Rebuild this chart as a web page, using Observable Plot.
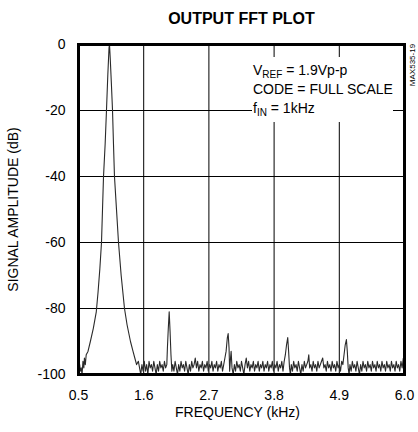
<!DOCTYPE html>
<html>
<head>
<meta charset="utf-8">
<script src="https://cdn.jsdelivr.net/npm/d3@7"></script>
<script src="https://cdn.jsdelivr.net/npm/@observablehq/plot@0.6"></script>
<style>
  body { margin: 0; background: white; }
  #wrap { position: relative; width: 418px; height: 432px; font-family: "Liberation Sans", Arial, Helvetica, sans-serif; }
  .note { position: absolute; left: 252px; top: 57px; width: 141px; height: 65px; background: white;
          font-size: 14px; line-height: 19px; padding: 4px 0 0 1px; box-sizing: border-box; color: black; white-space: nowrap; }
  .note sub { font-size: 10px; vertical-align: -3px; line-height: 0; }
  .code { position: absolute; left: 412px; top: 65px; transform: translate(-50%, -50%) rotate(-90deg);
          font-size: 8px; white-space: nowrap; color: black; }
</style>
</head>
<body>
<div id="wrap">
  <div id="chart"></div>
  <div class="note">V<sub>REF</sub> = 1.9Vp-p<br>CODE = FULL SCALE<br>f<sub>IN</sub> = 1kHz</div>
  <div class="code">MAX535-19</div>
</div>
<script>
const title = "OUTPUT FFT PLOT";
const xLabel = "FREQUENCY (kHz)";
const yLabel = "SIGNAL AMPLITUDE (dB)";
const xTicks = [0.5, 1.6, 2.7, 3.8, 4.9, 6.0];
const yTicks = [0, -20, -40, -60, -80, -100];

// [frequency kHz, level dB]
const spectrumPoints = [
  [0.50,-99],[0.51,-100],[0.52,-97],[0.53,-99],[0.545,-98],[0.56,-100],[0.575,-96],[0.59,-98],[0.60,-95],[0.615,-97],[0.63,-94],
  [0.66,-93],[0.70,-90],[0.75,-86],[0.80,-81],[0.83,-75],[0.86,-68],[0.888,-60],[0.905,-50],[0.922,-40],[0.95,-30],[0.972,-20],
  [0.995,-9],[1.015,-1],[1.023,0],[1.035,-4],[1.055,-12],[1.074,-20],[1.09,-30],[1.107,-40],[1.141,-50],[1.175,-60],[1.22,-70],
  [1.276,-80],[1.32,-85],[1.377,-90],[1.42,-93],[1.45,-95],[1.48,-97],[1.51,-96],[1.53,-98],
  [1.55,-100],[1.57,-97],[1.59,-99],[1.61,-96],[1.63,-99],[1.65,-97],[1.67,-100],[1.69,-96],[1.71,-98],[1.73,-97],[1.75,-99],
  [1.77,-96],[1.79,-98],[1.81,-100],[1.83,-97],[1.85,-99],[1.87,-96],[1.89,-98],[1.91,-97],[1.93,-99],[1.95,-96],[1.97,-98],
  [1.99,-97],[2.00,-92],[2.015,-86],[2.03,-81],[2.045,-87],[2.06,-94],[2.075,-99],
  [2.09,-97],[2.11,-99],[2.13,-96],[2.15,-98],[2.17,-100],[2.19,-97],[2.21,-99],[2.23,-96],[2.25,-98],[2.27,-97],[2.29,-99],
  [2.31,-96],[2.33,-98],[2.35,-100],[2.37,-97],[2.39,-99],[2.41,-96],[2.43,-98],[2.45,-97],[2.47,-95],[2.49,-98],[2.51,-96],
  [2.53,-99],[2.55,-97],[2.57,-98],[2.59,-96],[2.61,-99],[2.63,-97],[2.65,-98],[2.67,-96],[2.69,-99],[2.71,-97],[2.73,-98],
  [2.75,-96],[2.77,-99],[2.79,-97],[2.81,-98],[2.83,-96],[2.85,-99],[2.87,-97],[2.89,-98],[2.91,-96],[2.93,-99],[2.95,-97],[2.97,-95],
  [2.99,-93],[3.01,-89],[3.025,-87.6],[3.04,-92],[3.05,-99],[3.065,-95],[3.075,-93],[3.09,-98],[3.11,-100],
  [3.13,-97],[3.15,-99],[3.17,-96],[3.19,-98],[3.21,-97],[3.23,-99],[3.25,-96],[3.27,-98],[3.29,-100],[3.31,-97],[3.33,-95],
  [3.35,-98],[3.37,-96],[3.39,-99],[3.41,-97],[3.43,-98],[3.45,-96],[3.47,-99],[3.49,-97],[3.51,-98],[3.53,-96],[3.55,-99],
  [3.57,-97],[3.59,-98],[3.61,-96],[3.63,-99],[3.65,-97],[3.67,-98],[3.69,-96],[3.71,-99],[3.73,-97],[3.75,-98],[3.77,-96],
  [3.79,-99],[3.81,-97],[3.83,-98],[3.85,-96],[3.87,-99],[3.89,-97],[3.91,-98],[3.93,-96],[3.95,-99],[3.97,-96],
  [3.99,-94],[4.01,-91],[4.03,-88.8],[4.045,-93],[4.06,-98],[4.075,-100],
  [4.09,-97],[4.11,-99],[4.13,-96],[4.15,-98],[4.17,-97],[4.19,-99],[4.21,-96],[4.23,-98],[4.25,-100],[4.27,-97],[4.29,-99],
  [4.31,-96],[4.33,-98],[4.35,-97],[4.37,-96],[4.385,-94],[4.40,-98],[4.42,-97],[4.44,-99],[4.46,-96],[4.48,-98],[4.50,-97],
  [4.52,-99],[4.54,-96],[4.56,-98],[4.58,-97],[4.60,-96],[4.62,-95],[4.64,-98],[4.66,-97],[4.68,-99],[4.70,-96],[4.72,-98],
  [4.74,-97],[4.76,-99],[4.78,-96],[4.80,-98],[4.82,-97],[4.84,-99],[4.86,-96],[4.88,-98],[4.90,-97],[4.92,-99],[4.94,-96],[4.96,-97],
  [4.98,-94],[5.00,-91],[5.02,-89.4],[5.035,-93],[5.05,-98],[5.065,-100],
  [5.08,-97],[5.10,-99],[5.12,-96],[5.14,-98],[5.16,-97],[5.18,-99],[5.20,-96],[5.22,-98],[5.24,-100],[5.26,-97],[5.28,-99],
  [5.30,-96],[5.32,-98],[5.34,-97],[5.36,-99],[5.38,-96],[5.40,-98],[5.42,-97],[5.44,-99],[5.46,-96],[5.48,-98],[5.50,-97],
  [5.52,-99],[5.54,-96],[5.56,-98],[5.58,-97],[5.60,-99],[5.62,-96],[5.64,-98],[5.66,-97],[5.68,-99],[5.70,-96],[5.72,-98],
  [5.74,-97],[5.76,-99],[5.78,-96],[5.80,-98],[5.82,-97],[5.84,-99],[5.86,-96],[5.88,-98],[5.90,-97],[5.92,-99],[5.94,-96],
  [5.96,-98],[5.98,-95],[6.00,-97]
];

const data = spectrumPoints.map(([f, db]) => ({f, db}));
const font = "'Liberation Sans', Arial, Helvetica, sans-serif";

const chart = Plot.plot({
  width: 418,
  height: 432,
  marginTop: 44,
  marginBottom: 58,
  marginLeft: 78,
  marginRight: 14,
  style: {fontFamily: font, fontSize: "14px", color: "black", background: "white"},
  x: {domain: [0.5, 6.0], ticks: xTicks, tickFormat: d => d.toFixed(1), tickSize: 0, tickPadding: 16, label: null},
  y: {domain: [-100, 0], ticks: yTicks, tickFormat: d => String(d), tickSize: 0, tickPadding: 13, label: null},
  marks: [
    Plot.ruleX(xTicks, {stroke: "black", strokeWidth: 1}),
    Plot.ruleY(yTicks, {stroke: "black", strokeWidth: 1}),
    Plot.line(data, {x: "f", y: "db", stroke: "#2a2a2a", strokeWidth: 1.1}),
    Plot.frame({stroke: "black", strokeWidth: 3}),
    Plot.text([title], {frameAnchor: "top", dy: -26, fontWeight: "bold", fontSize: 16, lineAnchor: "middle", textAnchor: "middle"}),
    Plot.text([xLabel], {frameAnchor: "bottom", dy: 38, dx: -4, fontSize: 14, lineAnchor: "middle", textAnchor: "middle"}),
    Plot.text([yLabel], {frameAnchor: "left", dx: -65, rotate: -90, fontSize: 14, lineAnchor: "middle", textAnchor: "middle"})
  ]
});
document.getElementById("chart").appendChild(chart);
</script>
</body>
</html>
